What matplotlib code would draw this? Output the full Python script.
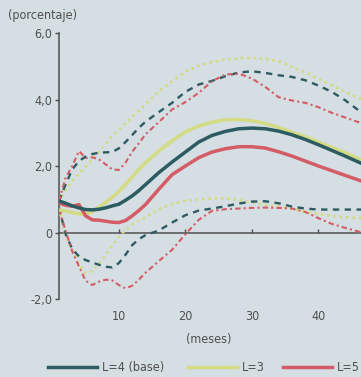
import matplotlib
matplotlib.use("Agg")
import matplotlib.pyplot as plt
from matplotlib.lines import Line2D
from matplotlib import font_manager

# ---------------- data ----------------
months = [1, 2, 3, 4, 5, 6, 7, 8, 9, 10, 11, 12, 13, 14,
          16, 18, 20, 22, 24, 26, 28, 30, 32, 34, 36, 38, 40, 42, 44, 46, 47]

l4_base = [0.95, 0.88, 0.80, 0.74, 0.69, 0.68, 0.70, 0.74, 0.80, 0.85, 0.97, 1.10, 1.26, 1.44,
           1.80, 2.12, 2.42, 2.72, 2.92, 3.04, 3.12, 3.14, 3.12, 3.05, 2.94, 2.80, 2.64, 2.47, 2.30, 2.12, 2.03]
l4_upper = [0.95, 1.45, 1.90, 2.15, 2.28, 2.36, 2.40, 2.41, 2.42, 2.53, 2.72, 2.93, 3.15, 3.33,
            3.62, 3.90, 4.23, 4.45, 4.56, 4.70, 4.81, 4.85, 4.80, 4.73, 4.68, 4.58, 4.42, 4.23, 3.98, 3.68, 3.52]
l4_lower = [0.75, -0.05, -0.50, -0.72, -0.83, -0.90, -0.97, -1.03, -1.05, -0.92, -0.67, -0.38, -0.20, -0.08,
            0.06, 0.30, 0.52, 0.66, 0.72, 0.79, 0.87, 0.93, 0.94, 0.88, 0.78, 0.72, 0.69, 0.69, 0.69, 0.69, 0.69]

l3 = [0.68, 0.65, 0.60, 0.56, 0.55, 0.63, 0.76, 0.90, 1.06, 1.24, 1.45, 1.67, 1.90, 2.10,
      2.45, 2.76, 3.03, 3.20, 3.32, 3.39, 3.40, 3.36, 3.28, 3.16, 3.02, 2.88, 2.72, 2.56, 2.40, 2.22, 2.13]
l3_upper = [0.90, 1.30, 1.55, 1.76, 1.98, 2.20, 2.42, 2.65, 2.90, 3.10, 3.28, 3.48, 3.66, 3.86,
            4.24, 4.55, 4.84, 5.02, 5.13, 5.20, 5.24, 5.25, 5.22, 5.16, 4.98, 4.82, 4.62, 4.43, 4.23, 4.05, 3.96]
l3_lower = [0.75, -0.12, -0.55, -0.95, -1.22, -1.16, -0.93, -0.68, -0.40, -0.13, 0.08, 0.25, 0.35, 0.45,
            0.70, 0.86, 0.95, 0.99, 1.02, 1.03, 0.98, 0.91, 0.83, 0.78, 0.72, 0.63, 0.55, 0.50, 0.46, 0.44, 0.43]

l5 = [0.88, 0.82, 0.79, 0.84, 0.50, 0.38, 0.37, 0.34, 0.31, 0.30, 0.36, 0.50, 0.66, 0.84,
      1.30, 1.74, 2.00, 2.25, 2.42, 2.52, 2.58, 2.58, 2.54, 2.43, 2.30, 2.15, 2.00, 1.86, 1.72, 1.58, 1.51]
l5_upper = [0.95, 1.65, 2.00, 2.45, 2.24, 2.26, 2.20, 2.05, 1.90, 1.88, 2.10, 2.43, 2.68, 2.95,
            3.32, 3.70, 3.92, 4.20, 4.55, 4.75, 4.78, 4.63, 4.38, 4.07, 3.97, 3.90, 3.77, 3.60, 3.46, 3.32, 3.25]
l5_lower = [0.70, 0.05, -0.57, -1.02, -1.45, -1.58, -1.48, -1.42, -1.44, -1.58, -1.68, -1.60, -1.42, -1.21,
            -0.86, -0.52, -0.05, 0.38, 0.65, 0.70, 0.72, 0.74, 0.75, 0.74, 0.72, 0.62, 0.43, 0.26, 0.14, 0.03, -0.03]

y_ticks = [-2, 0, 2, 4, 6]
y_tick_labels = ["-2,0", "0", "2,0", "4,0", "6,0"]
x_ticks = [10, 20, 30, 40]
x_tick_labels = ["10", "20", "30", "40"]
legend_labels = ["L=4 (base)", "L=3", "L=5"]

# ---------------- style ----------------
available = {f.name for f in font_manager.fontManager.ttflist}
condensed = [f for f in font_manager.fontManager.ttflist
             if f.name == "DejaVu Sans" and f.stretch in ("condensed", "semi-condensed", 500 - 100)]
if "Liberation Sans Narrow" in available:
    FAMILY = ["Liberation Sans Narrow", "DejaVu Sans"]
else:
    FAMILY = ["DejaVu Sans"]
plt.rcParams["font.family"] = FAMILY
plt.rcParams["font.stretch"] = "condensed"

BG = "#d5dee2"
TEAL = "#2c5c61"
YELLOW = "#d3dc82"
RED = "#d45c66"
GREY = "#4f4f4f"
FS = 9.0

fig = plt.figure(figsize=(3.61, 3.77), dpi=100, facecolor=BG)
ax = fig.add_axes([59 / 361, 1 - 299 / 377, 1 - 59 / 361, (299 - 33) / 377])
ax.set_facecolor(BG)

# bands
ax.plot(months, l3_upper, color=YELLOW, lw=1.9, ls=(0, (1, 1.4)), zorder=3)
ax.plot(months, l3_lower, color=YELLOW, lw=1.9, ls=(0, (1, 1.4)), zorder=3)
ax.plot(months, l4_upper, color=TEAL, lw=1.7, ls=(0, (2.7, 2.3)), zorder=3)
ax.plot(months, l4_lower, color=TEAL, lw=1.7, ls=(0, (2.7, 2.3)), zorder=3)
ax.plot(months, l5_upper, color=RED, lw=1.5, ls=(0, (2.6, 1.5, 1, 1.5)), zorder=3)
ax.plot(months, l5_lower, color=RED, lw=1.5, ls=(0, (2.6, 1.5, 1, 1.5)), zorder=3)

# central paths
ax.plot(months, l3, color=YELLOW, lw=2.5, zorder=4, solid_capstyle="butt")
ax.plot(months, l4_base, color=TEAL, lw=2.5, zorder=5, solid_capstyle="butt")
ax.plot(months, l5, color=RED, lw=2.5, zorder=4, solid_capstyle="butt")

ax.set_xlim(1, 46.4)
ax.set_ylim(-2, 6)

for s in ["top", "right"]:
    ax.spines[s].set_visible(False)
ax.spines["left"].set_color(GREY)
ax.spines["left"].set_linewidth(1.1)
ax.spines["bottom"].set_position(("data", 0))
ax.spines["bottom"].set_color(GREY)
ax.spines["bottom"].set_linewidth(1.1)
ax.spines["bottom"].set_zorder(2)

ax.set_yticks(y_ticks)
ax.set_yticklabels(y_tick_labels)
ax.set_xticks(x_ticks)
ax.set_xticklabels(x_tick_labels)
ax.tick_params(axis="y", direction="out", length=3, width=1, color=GREY,
               labelcolor=GREY, labelsize=FS, pad=2)
ax.tick_params(axis="x", direction="in", length=3, width=1, color=GREY,
               labelcolor=GREY, labelsize=FS, pad=56)

fig.text(8 / 361, 1 - 15 / 377, "(porcentaje)", ha="left", va="center",
         color=GREY, fontsize=FS)
fig.text(209 / 361, 1 - 340 / 377, "(meses)", ha="center", va="center",
         color=GREY, fontsize=FS)

# legend, one entry at a time
leg_colors = [TEAL, YELLOW, RED]
leg_x = [48, 188, 283]
for lab, col, xpx in zip(legend_labels, leg_colors, leg_x):
    h = Line2D([], [], color=col, lw=2.5)
    fig.legend(handles=[h], labels=[lab], loc="center left",
               bbox_to_anchor=(xpx / 361, 1 - 367.5 / 377), frameon=False,
               borderpad=0, borderaxespad=0, handlelength=3.9,
               handletextpad=0.4, fontsize=FS, labelcolor=GREY)

fig.savefig("out.png", dpi=100, facecolor=BG)
